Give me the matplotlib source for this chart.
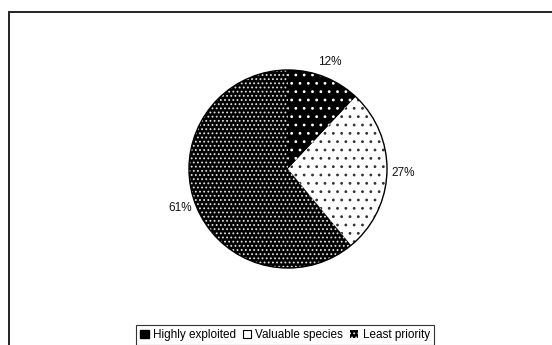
import matplotlib.pyplot as plt
from matplotlib.patches import Patch, Rectangle, Circle

# Share of species per priority class (percent)
categories = ["Highly exploited", "Valuable species", "Least priority"]
shares = [12, 27, 61]
pct_labels = ["12%", "27%", "61%"]

plt.rcParams['font.family'] = ['Liberation Sans', 'DejaVu Sans']
plt.rcParams['hatch.linewidth'] = 0.8

W, H = 552, 345
fig = plt.figure(figsize=(W / 100, H / 100), dpi=100)

# Outer chart border, open to the right and bottom
fig.patches.append(Rectangle((9 / W, -0.1), 1.2, 1 - 12 / H + 0.1,
                             transform=fig.transFigure, fill=False,
                             edgecolor='#222222', linewidth=1.4))

# Pie area: centre (288, 169), radius 101 px
cx, cy, r = 288, 169, 101
ax = fig.add_axes([(cx - r) / W, 1 - (cy + r) / H, 2 * r / W, 2 * r / H])

faces = ['black', 'white', 'black']
hatch_cols = ['white', '#333333', '#e0e0e0']
hatches = ['..', '..', '....']

wedges, texts = ax.pie(shares, labels=pct_labels, startangle=90,
                       counterclock=False, labeldistance=1.16,
                       textprops=dict(fontsize=8.5, color='#111111'))
for w, fc, hc, h in zip(wedges, faces, hatch_cols, hatches):
    w.set_facecolor(fc)
    w.set_edgecolor(hc)
    w.set_hatch(h)
    w.set_linewidth(0)
for t in texts:
    t.set_ha('center')
    t.set_va('center')
ax.add_patch(Circle((0, 0), 1, fill=False, edgecolor='black', linewidth=1.0))
ax.set_xlim(-1.02, 1.02)
ax.set_ylim(-1.02, 1.02)
ax.set_aspect('equal')
ax.axis('off')

handles = [Patch(facecolor='black', edgecolor='black'),
           Patch(facecolor='white', edgecolor='black', linewidth=0.8),
           Patch(facecolor='black', edgecolor='#e0e0e0', hatch='....', linewidth=0)]
leg = fig.legend(handles, categories, loc='upper center', ncol=3,
                 bbox_to_anchor=(285 / W, 1 - 325 / H), fontsize=8.5,
                 frameon=True, fancybox=False, handlelength=0.7,
                 handleheight=0.7, handletextpad=0.35, columnspacing=0.6,
                 borderpad=0.35, borderaxespad=0)
leg.get_frame().set_edgecolor('black')
leg.get_frame().set_linewidth(0.8)

fig.savefig('out.png', dpi=100)
